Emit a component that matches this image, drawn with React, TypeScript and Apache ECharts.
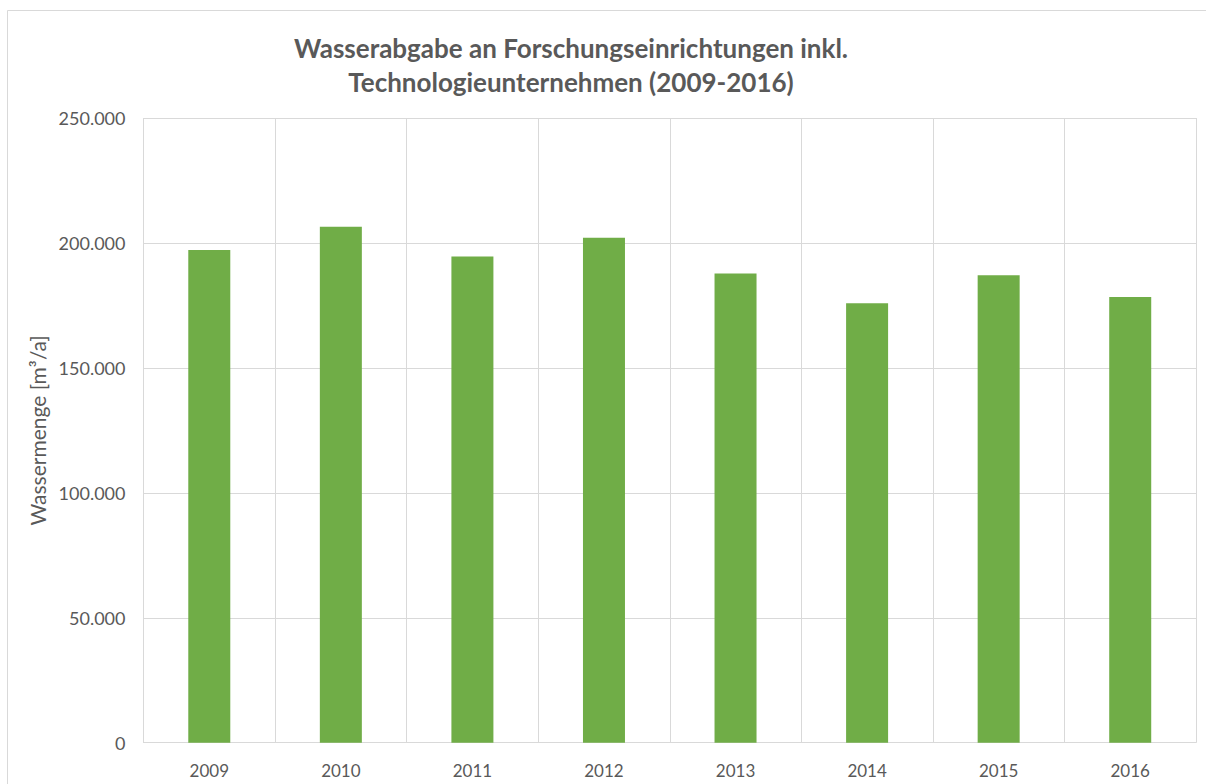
import React, { useEffect, useRef } from "react";
import * as echarts from "echarts";

const years = ["2009", "2010", "2011", "2012", "2013", "2014", "2015", "2016"];
const wassermenge = [197200, 206500, 194600, 202100, 187800, 175900, 187100, 178400];
const yTicks = [0, 50000, 100000, 150000, 200000, 250000];

const fmt = (v: number) => (v === 0 ? "0" : v.toLocaleString("de-DE"));

export default function App() {
  const ref = useRef<HTMLDivElement>(null);
  useEffect(() => {
    if (!ref.current) return;
    const chart = echarts.init(ref.current, undefined, { renderer: "svg" });
    const font = "Lato, 'Open Sans', sans-serif";
    chart.setOption({
      animation: false,
      backgroundColor: "#ffffff",
      textStyle: { fontFamily: font },
      title: {
        text: "Wasserabgabe an Forschungseinrichtungen inkl.\nTechnologieunternehmen (2009-2016)",
        left: 566,
        top: 26,
        textAlign: "center",
        textStyle: { fontSize: 26, fontWeight: "bold", color: "#595959", lineHeight: 34, fontFamily: font },
      },
      graphic: [
        {
          type: "rect",
          shape: { x: 7.5, y: 10.5, width: 1220, height: 800 },
          style: { fill: "none", stroke: "#D9D9D9", lineWidth: 1 },
          silent: true,
        },
      ],
      grid: { left: 143.5, right: 10, top: 118, bottom: 41.3 },
      xAxis: {
        type: "category",
        data: years,
        axisLine: { show: true, lineStyle: { color: "#D9D9D9", width: 1 } },
        axisTick: { show: false },
        splitLine: { show: true, lineStyle: { color: "#D9D9D9", width: 1 } },
        axisLabel: { color: "#595959", fontSize: 17, margin: 19, fontFamily: font },
      },
      yAxis: {
        type: "value",
        min: yTicks[0],
        max: yTicks[yTicks.length - 1],
        interval: 50000,
        name: "Wassermenge [m³/a]",
        nameLocation: "middle",
        nameGap: 81,
        nameTextStyle: { color: "#595959", fontSize: 21, fontFamily: font },
        axisLine: { show: false },
        axisTick: { show: false },
        splitLine: { show: true, lineStyle: { color: "#D9D9D9", width: 1 } },
        axisLabel: { color: "#595959", fontSize: 18, margin: 18, formatter: fmt, fontFamily: font },
      },
      series: [
        {
          type: "bar",
          data: wassermenge,
          barWidth: 42,
          itemStyle: { color: "#70AD47" },
        },
      ],
    });
    return () => chart.dispose();
  }, []);
  return (
    <div
      ref={ref}
      style={{ position: "fixed", left: 0, top: 0, width: 1206, height: 784, background: "#fff" }}
    />
  );
}
